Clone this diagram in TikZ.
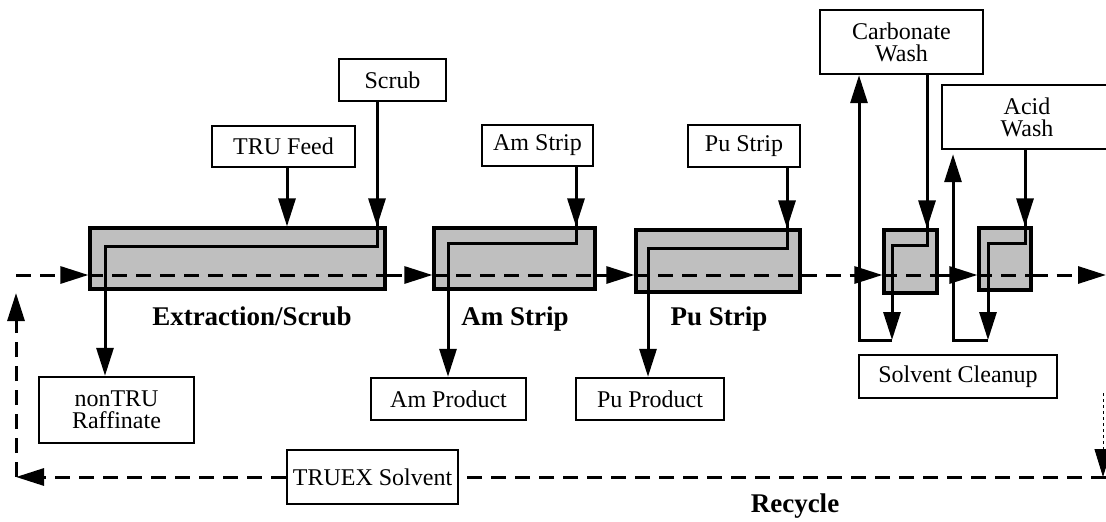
\documentclass[tikz,border=0pt]{standalone}
\usepackage{fontspec}
\setmainfont{Liberation Serif}
\usetikzlibrary{arrows.meta}
\begin{document}
\begin{tikzpicture}[x=1pt,y=-1pt,
  box/.style={draw,line width=2.4pt,fill=white,inner sep=0pt,align=center,font=\fontsize{24}{22}\selectfont},
  unit/.style={draw,line width=3.2pt,fill=black!25,inner sep=0pt},
  pipe/.style={line width=3pt},
  flow/.style={pipe,-{Triangle[length=28pt,width=17pt]}},
  dpipe/.style={line width=3pt,dash pattern=on 15pt off 9pt},
  dflow/.style={dpipe,-{Triangle[length=28pt,width=17pt]}},
  title/.style={font=\bfseries\fontsize{27}{27}\selectfont,anchor=base,inner sep=0pt}]
\useasboundingbox[fill=white] (0,0) rectangle (1106,522);

% feed / product boxes
\node[box,minimum width=107pt,minimum height=42pt] (scrub) at (392.5,80) {Scrub};
\node[box,minimum width=143pt,minimum height=41pt] (trufeed) at (283.5,146.5) {TRU Feed};
\node[box,minimum width=111pt,minimum height=41pt] (amstrip) at (537.5,145.5) {Am Strip};
\node[box,minimum width=112pt,minimum height=42pt] (pustrip) at (744,146) {Pu Strip};
\node[box,minimum width=163pt,minimum height=64pt] (carbwash) at (901.5,42) {Carbonate\\Wash};
\node[box,minimum width=170pt,minimum height=64pt] (acidwash) at (1027,117) {Acid\\Wash};
\node[box,minimum width=155pt,minimum height=66pt] (nontru) at (116.5,410) {nonTRU\\Raffinate};
\node[box,minimum width=155pt,minimum height=42pt] (amprod) at (448.5,399) {Am Product};
\node[box,minimum width=148pt,minimum height=42pt] (puprod) at (650,399) {Pu Product};
\node[box,minimum width=198pt,minimum height=43pt] (solv) at (958,376.5) {Solvent Cleanup};
\node[box,minimum width=171pt,minimum height=54pt] (truex) at (372.5,477) {TRUEX Solvent};

% contactor units
\node[unit,minimum width=295pt,minimum height=61pt] (ext) at (237.5,258.5) {};
\node[unit,minimum width=161pt,minimum height=61pt] (am) at (514.5,258.5) {};
\node[unit,minimum width=164pt,minimum height=62pt] (pu) at (718,261) {};
\node[unit,minimum width=53pt,minimum height=63pt] (cu) at (910.5,261.5) {};
\node[unit,minimum width=52pt,minimum height=62pt] (au) at (1005,259) {};

% labels
\node[title] (lext) at (252,325) {Extraction/Scrub};
\node[title] (lam) at (515,325) {Am Strip};
\node[title] (lpu) at (719,325) {Pu Strip};
\node[title] (lrec) at (795,512) {Recycle};

% coordinates
\coordinate (m) at (16,275);
\coordinate (mR) at (1106,275);
\coordinate (eR) at (377,246); \coordinate (eL) at (105,246);
\coordinate (aR) at (576,243); \coordinate (aL) at (448,243);
\coordinate (pR) at (787,248); \coordinate (pL) at (648,248);
\coordinate (cR) at (927,245); \coordinate (cL) at (892,245);
\coordinate (cB) at (892,340); \coordinate (cO) at (859,340);
\coordinate (kR) at (1025,243); \coordinate (kL) at (988,243);
\coordinate (kB) at (988,340); \coordinate (kO) at (953,340);
\coordinate (rR) at (1106,477); \coordinate (rL) at (16,477);
\coordinate (rU) at (16,293); \coordinate (rT) at (1103,393);

% extraction / scrub
\draw[flow] (trufeed.south -| 287,0) -- (287,0 |- ext.north);
\draw[pipe] (eR |- scrub.south) -- (eR) -- (eL) -- (eL |- ext.south);
\draw[flow] (eR |- scrub.south) -- (eR |- ext.north);
\draw[flow] (eL |- ext.south) -- (eL |- nontru.north);

% Am strip
\draw[pipe] (aR |- amstrip.south) -- (aR) -- (aL) -- (aL |- am.south);
\draw[flow] (aR |- amstrip.south) -- (aR |- am.north);
\draw[flow] (aL |- am.south) -- (aL |- amprod.north);

% Pu strip
\draw[pipe] (pR |- pustrip.south) -- (pR) -- (pL) -- (pL |- pu.south);
\draw[flow] (pR |- pustrip.south) -- (pR |- pu.north);
\draw[flow] (pL |- pu.south) -- (pL |- puprod.north);

% carbonate wash
\draw[pipe] (cR |- carbwash.south) -- (cR) -- (cL) -- (cL |- cu.south);
\draw[flow] (cR |- carbwash.south) -- (cR |- cu.north);
\draw[flow] (cL |- cu.south) -- (cB);
\draw[flow] (cB) -- (cO) -- (cO |- carbwash.south);

% acid wash
\draw[pipe] (kR |- acidwash.south) -- (kR) -- (kL) -- (kL |- au.south);
\draw[flow] (kR |- acidwash.south) -- (kR |- au.north);
\draw[flow] (kL |- au.south) -- (kB);
\draw[flow] (kB) -- (kO) -- ([yshift=-4pt]kO |- acidwash.south);

% solvent main flow
\draw[dflow] (m) -- (ext.west |- m);
\draw[dpipe] (ext.west |- m) -- (ext.east |- m);
\draw[dflow] (ext.east |- m) -- (am.west |- m);
\draw[dpipe] (am.west |- m) -- (am.east |- m);
\draw[dflow] (am.east |- m) -- (pu.west |- m);
\draw[dpipe] (pu.west |- m) -- (pu.east |- m);
\draw[dflow] (pu.east |- m) -- (cu.west |- m);
\draw[dpipe] (cu.west |- m) -- (cu.east |- m);
\draw[dflow] (cu.east |- m) -- (au.west |- m);
\draw[dpipe] (au.west |- m) -- (au.east |- m);
\draw[dflow] (au.east |- m) -- (mR);

% recycle
\draw[dpipe] (rR) -- (truex.east |- rR);
\draw[dflow] (truex.west |- rR) -- (rL);
\draw[dflow] (rL) -- (rU);
\draw[line width=1pt,dash pattern=on 3pt off 3pt,-{Triangle[length=28pt,width=17pt]}] (rT) -- (rT |- rR);
\end{tikzpicture}
\end{document}
